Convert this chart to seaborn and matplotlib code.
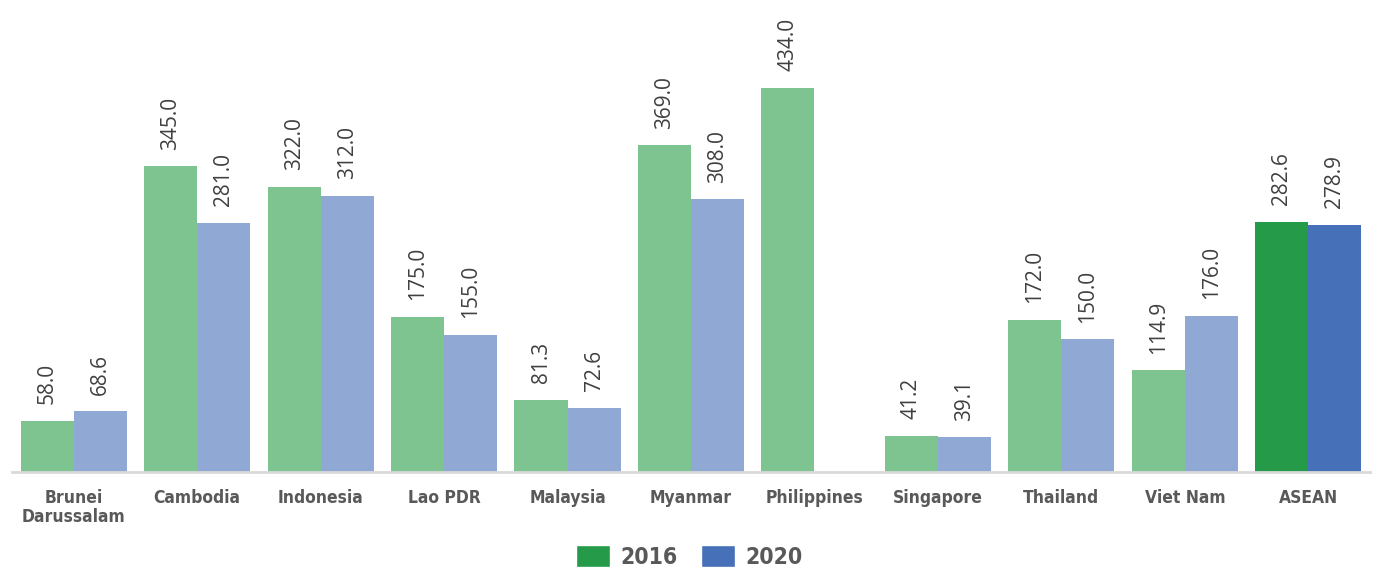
import numpy as np
import pandas as pd
import seaborn as sns
import matplotlib.pyplot as plt
from matplotlib.patches import Patch

countries = ['Brunei\nDarussalam', 'Cambodia', 'Indonesia', 'Lao PDR', 'Malaysia',
             'Myanmar', 'Philippines', 'Singapore', 'Thailand', 'Viet Nam', 'ASEAN']
values_2016 = [58.0, 345.0, 322.0, 175.0, 81.3, 369.0, 434.0, 41.2, 172.0, 114.9, 282.6]
values_2020 = [68.6, 281.0, 312.0, 155.0, 72.6, 308.0, np.nan, 39.1, 150.0, 176.0, 278.9]
years = ['2016', '2020']

light = {'2016': '#7dc490', '2020': '#8fa8d4'}
dark = {'2016': '#259a48', '2020': '#4671b8'}

df = pd.DataFrame({
    'country': countries * 2,
    'year': ['2016'] * len(countries) + ['2020'] * len(countries),
    'value': values_2016 + values_2020,
})

sns.set_style('white')
plt.rcParams['font.family'] = ['DejaVu Sans']
plt.rcParams['font.stretch'] = 'condensed'

fig = plt.figure(figsize=(13.79, 5.68), dpi=100)
ax = fig.add_axes([12 / 1379, 1 - 472 / 568, 1358 / 1379, 472 / 568])

sns.barplot(data=df, x='country', y='value', hue='year', palette=light,
            width=0.86, saturation=1, linewidth=0, legend=False, ax=ax)

for cont, yr in zip(ax.containers, years):
    bars = [b for b in cont if np.isfinite(b.get_height())]
    bars[-1].set_facecolor(dark[yr])
    labels = ['' if not np.isfinite(b.get_height()) else f'{b.get_height():.1f}' for b in cont]
    ax.bar_label(cont, labels=labels, rotation=90, padding=12, fontsize=15,
                 color='#404040', family=['Open Sans', 'DejaVu Sans'],
                 fontstretch='normal')

ax.set_ylim(0, 533)
ax.set_xlim(-0.5, 10.5)
ax.set_yticks([])
ax.set_xlabel('')
ax.set_ylabel('')
for s in ['top', 'right', 'left']:
    ax.spines[s].set_visible(False)
ax.spines['bottom'].set_color('#d9d9d9')
ax.spines['bottom'].set_linewidth(2)
ax.tick_params(axis='x', length=0, pad=12)
for t in ax.get_xticklabels():
    t.set_fontweight('bold')
    t.set_fontsize(12.5)
    t.set_color('#595959')
    t.set_fontstretch('condensed')
    t.set_linespacing(1.1)

handles = [Patch(facecolor=dark[y], label=y) for y in years]
fig.legend(handles=handles, loc='center', bbox_to_anchor=(0.5, 1 - 557 / 568),
           ncol=2, frameon=False, handlelength=1.5, handleheight=1.1,
           columnspacing=1.0, handletextpad=0.45,
           prop={'weight': 'bold', 'size': 16.5, 'stretch': 'condensed'})
for t in fig.legends[0].get_texts():
    t.set_color('#595959')

fig.savefig('out.png', dpi=100)
